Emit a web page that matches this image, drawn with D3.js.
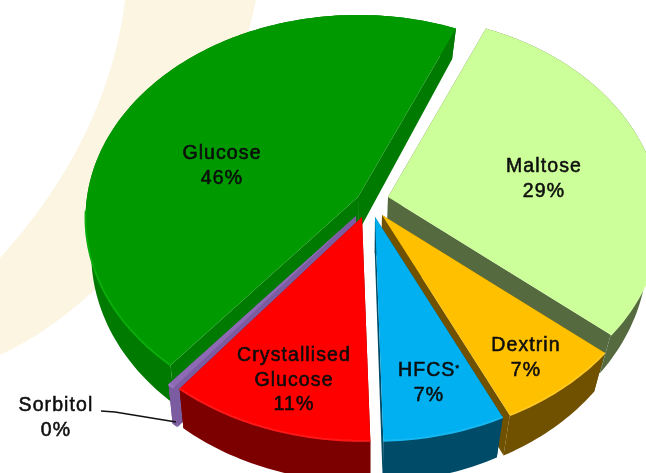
<!DOCTYPE html>
<html><head><meta charset="utf-8">
<script src="https://cdn.jsdelivr.net/npm/d3@7"></script>
<style>html,body{margin:0;padding:0;background:#fff;overflow:hidden}svg{display:block}</style>
</head><body><svg id="c" width="646" height="473"></svg>
<script>
const categories = ["Maltose","Dextrin","HFCS","Crystallised Glucose","Sorbitol","Glucose"];
const values = [29,7,7,11,0.4,46];
const percentLabels = ["29%","7%","7%","11%","0%","46%"];

const topColors = ["#CCFF99","#FFC000","#00B0F0","#FF0000","#8E69B4","#009900"];
const wallColors = ["#566B40","#6F5100","#004C68","#7D0000","#7B5BA0","#007A00"];
const rimColors = ["#D0FFA0","#FFC820","#18B8F2","#FF1818","#9A78C0","#08AC08"];
const apex = {Maltose:[388,197],Dextrin:[382,215],HFCS:[375,217],"Crystallised Glucose":[362,217],Sorbitol:[356,216],Glucose:[358,197]};
const drawOrder = ["Maltose","Glucose","Sorbitol","Crystallised Glucose","Dextrin","HFCS"];

const RX=271, RY=200.8, K=0.103, START=23.3*Math.PI/180;
const rad=d=>d*Math.PI/180;
const svg=d3.select("#c");
const defs=svg.append("defs");
defs.append("filter").attr("id","soft").append("feGaussianBlur").attr("stdDeviation",0.55);
defs.append("filter").attr("id","softText").append("feGaussianBlur").attr("stdDeviation",0.4);

// cream swoosh behind the pie
svg.append("path").attr("fill","#FBF5E1")
  .attr("d","M125,0 C117,70 85,165 0,258 L0,355 C120,300 225,150 256,0 Z");

const pie=d3.pie().sort(null).value(d=>d).startAngle(START).endAngle(START+2*Math.PI);
const arcs=pie(values);
const line=d3.line();
// the picture's perspective slightly bends the angles on the front side
const warp=d3.scaleLinear()
  .domain([23.3,127.7,152.9,178.1,217.7,218.9,383.3].map(rad))
  .range([23.3,130.3,155.2,179,219,220,383.3].map(rad));

function proj(a,ang){
  const w=warp(ang), s=Math.sin(w), t=-Math.cos(w), d=1-K*t;
  return [a[0]+RX*s/d, a[1]+RY*t/d];
}
function drop(p){
  const f=p[0]<370?0.02:0.045;
  return [p[0]+(370-p[0])*f, p[1]+30+0.025*p[1]];
}
function rim(a,d){
  const n=Math.max(2,Math.ceil((d.endAngle-d.startAngle)/0.02));
  return d3.range(n+1).map(i=>proj(a,d.startAngle+(d.endAngle-d.startAngle)*i/n));
}
const g=svg.append("g").attr("filter","url(#soft)");
const idx=new Map(categories.map((c,i)=>[c,i]));

drawOrder.forEach(name=>{
  const i=idx.get(name), d=arcs[i], a=apex[name], edge=rim(a,d);
  const wall=edge.concat(edge.map(drop).reverse());
  g.append("path").attr("d",line(wall)+"Z").attr("fill",wallColors[i]);
  const first=edge[0], last=edge[edge.length-1];
  [first,last].forEach(p=>{
    g.append("path").attr("d",line([a,p,drop(p),drop(a)])+"Z").attr("fill",wallColors[i]);
  });
  g.append("path").attr("d",line([a].concat(edge))+"Z").attr("fill",topColors[i]);
  // bevel highlight on the rim facing the viewer
  const front=edge.filter(p=>p[1]>a[1]+10);
  if(front.length>1) g.append("path").attr("d",line(front)).attr("fill","none")
    .attr("stroke",rimColors[i]).attr("stroke-width",2);
});

// leader line for Sorbitol
svg.append("path").attr("d",line([[101,411],[115,412],[176,422]]))
  .attr("fill","none").attr("stroke","#111").attr("stroke-width",1.6);

// labels
const labelPos={Maltose:[544,172],Dextrin:[526,351],HFCS:[429,376],"Crystallised Glucose":[294,361],Sorbitol:[56,411],Glucose:[222,159]};
const labels=svg.append("g").attr("filter","url(#softText)")
  .attr("font-family","'Liberation Sans',Arial,sans-serif").attr("font-size",19.5)
  .attr("text-anchor","middle").attr("fill","#0a0a0a").attr("stroke","#0a0a0a").attr("stroke-width",0.5)
  .attr("letter-spacing",1.1);
categories.forEach((c,i)=>{
  const [x,y]=labelPos[c];
  const lines=c==="Crystallised Glucose"?["Crystallised","Glucose"]:[c];
  const t=labels.append("text").attr("x",x).attr("y",y);
  lines.forEach((l,j)=>{
    t.append("tspan").attr("x",x).attr("dy",j?24.5:0).text(l);
  });
  if(c==="HFCS") t.append("tspan").attr("font-size",9).attr("dy",-5).text("*");
  t.append("tspan").attr("x",x).attr("dy",c==="HFCS"?29.5:24.5).text(percentLabels[i]);
});
</script></body></html>
